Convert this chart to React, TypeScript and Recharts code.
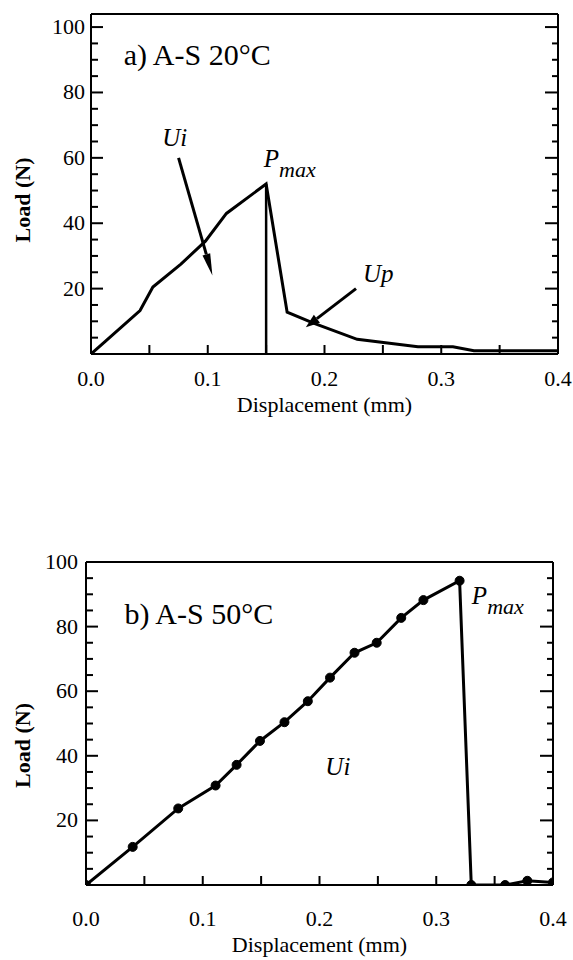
import React from 'react';
import { LineChart, Line, XAxis, YAxis, ReferenceLine, ReferenceDot } from 'recharts';

const FONT = "'Liberation Serif', 'Times New Roman', Times, 'DejaVu Serif', serif";

// shared ticks
const xTicks = [0, 0.05, 0.1, 0.15, 0.2, 0.25, 0.3, 0.35, 0.4];
const xLabelTicks = [0, 0.1, 0.2, 0.3, 0.4];
const yTicks = [0, 5, 10, 15, 20, 25, 30, 35, 40, 45, 50, 55, 60, 65, 70, 75, 80, 85, 90, 95, 100];
const yLabelTicks = [20, 40, 60, 80, 100];

// chart a) A-S 20°C
const dispA = [0, 0.012, 0.042, 0.053, 0.077, 0.098, 0.116, 0.15, 0.168, 0.19, 0.228, 0.28, 0.31, 0.328, 0.4];
const loadA = [0, 3.8, 13.3, 20.5, 27.5, 34.5, 43, 52, 12.8, 9.5, 4.5, 2.2, 2.2, 1.0, 1.0];
const dropDispA = [0.15, 0.15];
const dropLoadA = [52, 0];
const arrowUiA = [{ x: 0.075, y: 60 }, { x: 0.104, y: 24 }];
const arrowUpA = [{ x: 0.227, y: 20 }, { x: 0.184, y: 8.2 }];

// chart b) A-S 50°C
const dispB = [0, 0.04, 0.079, 0.111, 0.129, 0.149, 0.17, 0.19, 0.209, 0.23, 0.249, 0.27, 0.289, 0.32, 0.33, 0.359, 0.378, 0.4];
const loadB = [0, 11.8, 23.7, 30.8, 37.2, 44.6, 50.4, 56.9, 64.2, 71.9, 75.0, 82.7, 88.2, 94.2, 0, 0, 1.3, 0.8];

const toPts = (xs: number[], ys: number[]) => xs.map((x, i) => ({ x, y: ys[i] }));
const dataA = toPts(dispA, loadA);
const dropA = toPts(dropDispA, dropLoadA);
const dataB = toPts(dispB, loadB);

const has = (list: number[], v: number) => list.some((l) => Math.abs(l - v) < 1e-9);

const txt = (size: number, extra: React.CSSProperties = {}): React.CSSProperties => ({
  fontFamily: FONT,
  fontSize: size,
  fill: '#000',
  ...extra,
});

const makeBottomTick = (labelDy: number) => (p: any) => {
  const { x, y, payload } = p;
  const v = payload.value as number;
  return (
    <g>
      <line x1={x} x2={x} y1={y} y2={y - 9} stroke="#000" strokeWidth={2} />
      {has(xLabelTicks, v) && (
        <text x={x} y={y + labelDy} textAnchor="middle" style={txt(22)}>
          {v.toFixed(1)}
        </text>
      )}
    </g>
  );
};

const TopTick = (p: any) => {
  const { x, y } = p;
  return <line x1={x} x2={x} y1={y} y2={y + 9} stroke="#000" strokeWidth={2} />;
};

const makeLeftTick = (gap: number) => (p: any) => {
  const { x, y, payload } = p;
  const v = payload.value as number;
  const major = v % 20 === 0;
  return (
    <g>
      <line x1={x} x2={x + (major ? 12 : 7)} y1={y} y2={y} stroke="#000" strokeWidth={2} />
      {has(yLabelTicks, v) && (
        <text x={x - gap} y={y + 7} textAnchor="end" style={txt(22)}>
          {String(v)}
        </text>
      )}
    </g>
  );
};

const RightTick = (p: any) => {
  const { x, y, payload } = p;
  const v = payload.value as number;
  const major = v % 20 === 0;
  return <line x1={x} x2={x - (major ? 13 : 6)} y1={y} y2={y} stroke="#000" strokeWidth={2} />;
};

const arrowShape = (headLen: number, headW: number, sw: number) => (props: any) => {
  const { x1, y1, x2, y2 } = props;
  const dx = x2 - x1;
  const dy = y2 - y1;
  const L = Math.hypot(dx, dy) || 1;
  const ux = dx / L;
  const uy = dy / L;
  const bx = x2 - ux * headLen;
  const by = y2 - uy * headLen;
  const px = -uy;
  const py = ux;
  return (
    <g>
      <line x1={x1} y1={y1} x2={bx} y2={by} stroke="#000" strokeWidth={sw} />
      <polygon
        points={`${x2},${y2} ${bx + (px * headW) / 2},${by + (py * headW) / 2} ${bx - (px * headW) / 2},${by - (py * headW) / 2}`}
        fill="#000"
      />
    </g>
  );
};

const textShape = (content: React.ReactNode, size: number, italic: boolean) => (props: any) => (
  <text x={props.cx} y={props.cy} style={txt(size, { fontStyle: italic ? 'italic' : 'normal' })}>
    {content}
  </text>
);

const pmax = (
  <>
    <tspan>P</tspan>
    <tspan dy={10} style={{ fontSize: 22 }}>max</tspan>
  </>
);

const yLabel = (dyc: number) => (p: any) => {
  const vb = p.viewBox || { x: 0, y: 0, width: 0, height: 0 };
  const cx = 22;
  const cy = vb.y + vb.height / 2 + dyc;
  return (
    <text
      x={cx}
      y={cy}
      transform={`rotate(-90 ${cx} ${cy})`}
      textAnchor="middle"
      dominantBaseline="central"
      style={txt(22, { fontWeight: 'bold' })}
    >
      Load (N)
    </text>
  );
};

const xLabel = (dyc: number) => (p: any) => {
  const vb = p.viewBox || { x: 0, y: 0, width: 0, height: 0 };
  return (
    <text x={vb.x + vb.width / 2} y={vb.y + dyc} textAnchor="middle" style={txt(22)}>
      Displacement (mm)
    </text>
  );
};

const axisLine = { stroke: '#000', strokeWidth: 2 };

export default function App() {
  return (
    <div style={{ position: 'absolute', left: 0, top: 0, width: 573, height: 960, background: '#fff', fontFamily: FONT }}>
      <div style={{ position: 'absolute', left: 0, top: 0 }}>
        <LineChart width={573} height={430} margin={{ top: 0, right: 0, bottom: 0, left: 0 }}>
          <XAxis
            dataKey="x"
            type="number"
            domain={[0, 0.4]}
            allowDataOverflow
            ticks={xTicks}
            interval={0}
            height={76}
            tickSize={0}
            tickMargin={0}
            axisLine={axisLine}
            tickLine={false}
            tick={makeBottomTick(32)}
            label={{ content: xLabel(58) }}
          />
          <XAxis
            xAxisId="t"
            orientation="top"
            type="number"
            domain={[0, 0.4]}
            allowDataOverflow
            ticks={xTicks}
            interval={0}
            height={14}
            tickSize={0}
            tickMargin={0}
            axisLine={axisLine}
            tickLine={false}
            tick={TopTick}
          />
          <YAxis
            type="number"
            domain={[0, 104]}
            allowDataOverflow
            ticks={yTicks}
            interval={0}
            width={91}
            tickSize={0}
            tickMargin={0}
            axisLine={axisLine}
            tickLine={false}
            tick={makeLeftTick(6)}
            label={{ content: yLabel(16) }}
          />
          <YAxis
            yAxisId="r"
            orientation="right"
            type="number"
            domain={[0, 104]}
            allowDataOverflow
            ticks={yTicks}
            interval={0}
            width={15}
            tickSize={0}
            tickMargin={0}
            axisLine={axisLine}
            tickLine={false}
            tick={RightTick}
          />
          <Line data={dataA} dataKey="y" stroke="#000" strokeWidth={3} dot={false} isAnimationActive={false} />
          <Line data={dropA} dataKey="y" stroke="#000" strokeWidth={2.5} dot={false} isAnimationActive={false} />
          <ReferenceLine segment={arrowUiA} shape={arrowShape(22, 8, 3)} />
          <ReferenceLine segment={arrowUpA} shape={arrowShape(14, 10, 3)} />
          <ReferenceDot x={0.028} y={88.5} shape={textShape('a) A-S 20°C', 30, false)} />
          <ReferenceDot x={0.061} y={63.5} shape={textShape('Ui', 25, true)} />
          <ReferenceDot x={0.148} y={57.3} shape={textShape(pmax, 25, true)} />
          <ReferenceDot x={0.233} y={22} shape={textShape('Up', 25, true)} />
        </LineChart>
      </div>
      <div style={{ position: 'absolute', left: 0, top: 480 }}>
        <LineChart width={573} height={480} margin={{ top: 68, right: 0, bottom: 0, left: 0 }}>
          <XAxis
            dataKey="x"
            type="number"
            domain={[0, 0.4]}
            allowDataOverflow
            ticks={xTicks}
            interval={0}
            height={75}
            tickSize={0}
            tickMargin={0}
            axisLine={axisLine}
            tickLine={false}
            tick={makeBottomTick(41)}
            label={{ content: xLabel(67) }}
          />
          <XAxis
            xAxisId="t"
            orientation="top"
            type="number"
            domain={[0, 0.4]}
            allowDataOverflow
            ticks={xTicks}
            interval={0}
            height={14}
            tickSize={0}
            tickMargin={0}
            axisLine={axisLine}
            tickLine={false}
            tick={TopTick}
          />
          <YAxis
            type="number"
            domain={[0, 100]}
            allowDataOverflow
            ticks={yTicks}
            interval={0}
            width={86}
            tickSize={0}
            tickMargin={0}
            axisLine={axisLine}
            tickLine={false}
            tick={makeLeftTick(8)}
            label={{ content: yLabel(22) }}
          />
          <YAxis
            yAxisId="r"
            orientation="right"
            type="number"
            domain={[0, 100]}
            allowDataOverflow
            ticks={yTicks}
            interval={0}
            width={20}
            tickSize={0}
            tickMargin={0}
            axisLine={axisLine}
            tickLine={false}
            tick={RightTick}
          />
          <Line
            data={dataB}
            dataKey="y"
            stroke="#000"
            strokeWidth={3}
            dot={{ r: 4.5, fill: '#000', stroke: '#000', strokeWidth: 1 }}
            isAnimationActive={false}
          />
          <ReferenceDot x={0.033} y={80.8} shape={textShape('b) A-S 50°C', 30, false)} />
          <ReferenceDot x={0.3305} y={87} shape={textShape(pmax, 25, true)} />
          <ReferenceDot x={0.205} y={34.2} shape={textShape('Ui', 25, true)} />
        </LineChart>
      </div>
    </div>
  );
}
